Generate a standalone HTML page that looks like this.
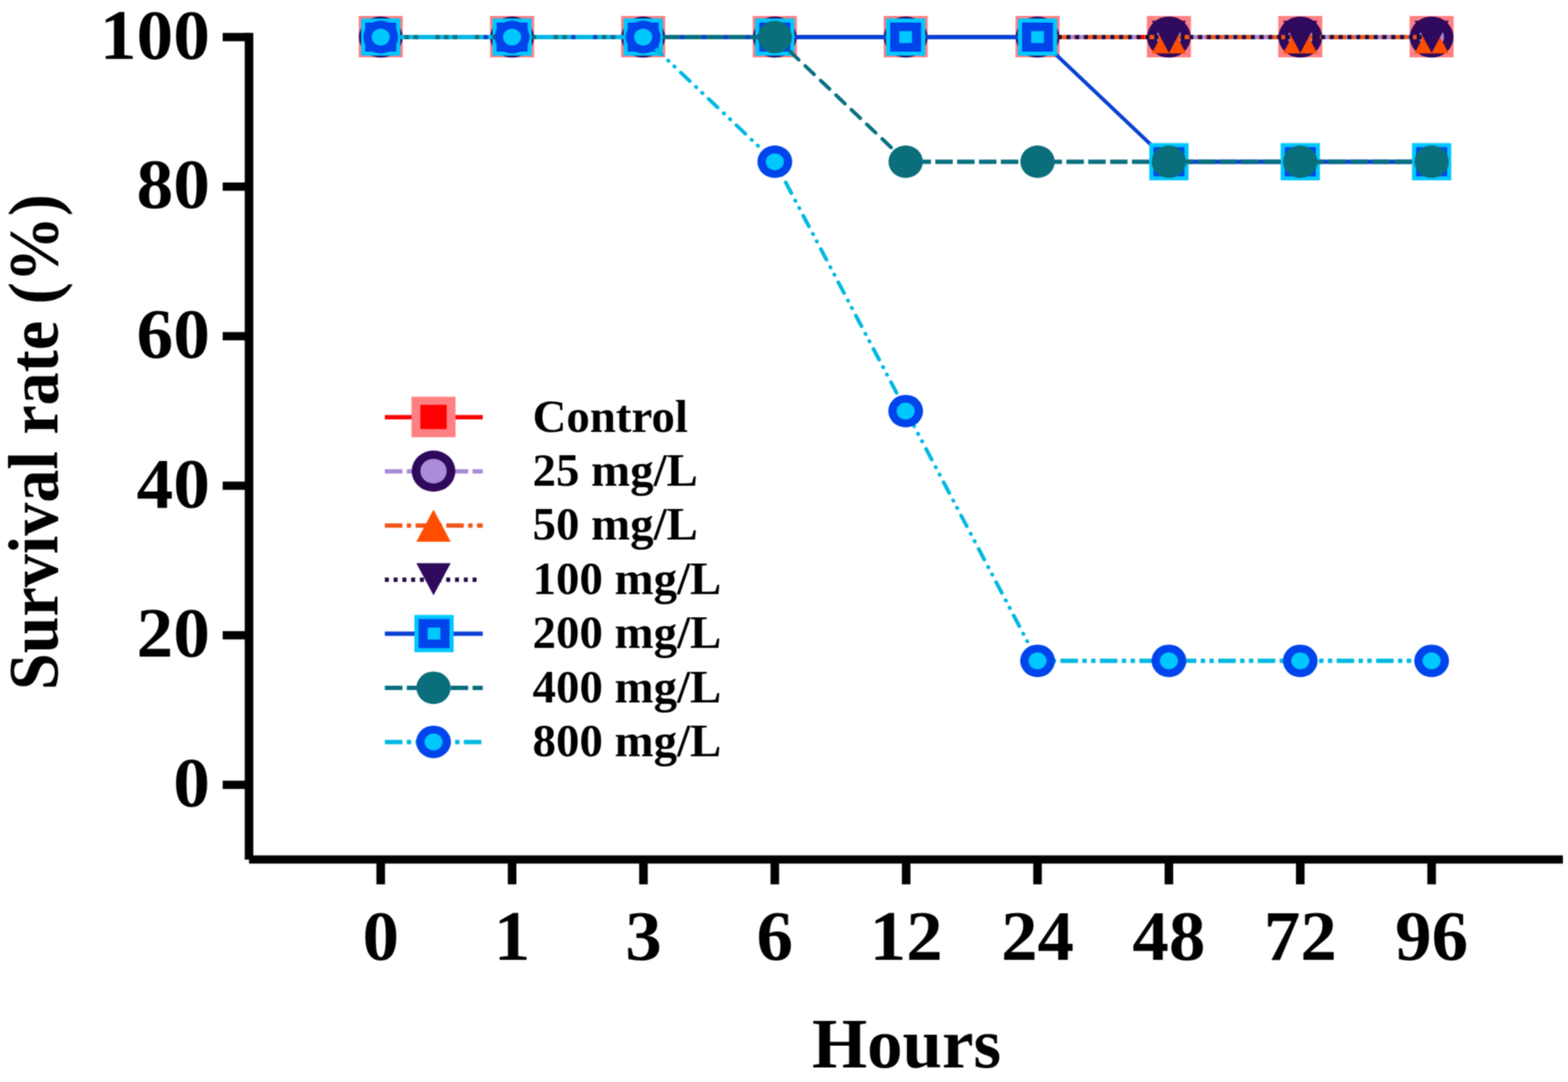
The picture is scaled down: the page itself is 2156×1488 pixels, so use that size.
<!DOCTYPE html>
<html lang="en">
<head>
<meta charset="utf-8">
<title>Survival rate (%) vs Hours</title>
<style>
html,body{margin:0;padding:0;background:#fff;}
body{width:2156px;height:1488px;overflow:hidden;position:relative;}
svg{position:absolute;left:0;top:0;display:block;}
text{font-family:"Liberation Serif",serif;font-weight:bold;fill:#000;}
.tick{font-size:96.5px;}
.leg{font-size:64px;}
</style>
</head>
<body>
<svg width="2156" height="1488" viewBox="0 0 2156 1488" role="img" aria-label="Line chart of survival rate (%) against hours for control and 25 to 800 mg/L treatments">
<defs>
<filter id="soft" x="0" y="0" width="2156" height="1488" filterUnits="userSpaceOnUse" color-interpolation-filters="sRGB">
<feConvolveMatrix order="3" kernelMatrix="1 2 1 2 4 2 1 2 1" divisor="16" edgeMode="duplicate" preserveAlpha="false"/>
</filter>
</defs>
<g id="figure" filter="url(#soft)">
<rect x="0" y="0" width="2156" height="1488" fill="#fff"/>

<g id="axes" fill="#000">
<rect x="336.5" y="45.2" width="11.8" height="1137"/>
<rect x="342.4" y="1176.4" width="1806.6" height="11.2"/>
<rect x="306.2" y="45.3" width="36.2" height="11.4"/>
<rect x="306.2" y="250.96" width="36.2" height="11.4"/>
<rect x="306.2" y="456.62" width="36.2" height="11.4"/>
<rect x="306.2" y="662.28" width="36.2" height="11.4"/>
<rect x="306.2" y="867.94" width="36.2" height="11.4"/>
<rect x="306.2" y="1073.6" width="36.2" height="11.4"/>
<rect x="517.6" y="1182" width="11.8" height="34.2"/>
<rect x="698.23" y="1182" width="11.8" height="34.2"/>
<rect x="878.85" y="1182" width="11.8" height="34.2"/>
<rect x="1059.47" y="1182" width="11.8" height="34.2"/>
<rect x="1240.1" y="1182" width="11.8" height="34.2"/>
<rect x="1420.72" y="1182" width="11.8" height="34.2"/>
<rect x="1601.35" y="1182" width="11.8" height="34.2"/>
<rect x="1781.97" y="1182" width="11.8" height="34.2"/>
<rect x="1962.6" y="1182" width="11.8" height="34.2"/>
</g>
<g id="ylabels" class="tick" text-anchor="end">
<text transform="translate(288.6 80.6) scale(1.045 1)">100</text>
<text transform="translate(288.6 286.26) scale(1.045 1)">80</text>
<text transform="translate(288.6 491.92) scale(1.045 1)">60</text>
<text transform="translate(288.6 697.58) scale(1.045 1)">40</text>
<text transform="translate(288.6 903.24) scale(1.045 1)">20</text>
<text transform="translate(288.6 1108.9) scale(1.045 1)">0</text>
</g>
<g id="xlabels" class="tick" text-anchor="middle">
<text transform="translate(523.5 1319.6) scale(1.04 1)">0</text>
<text transform="translate(704.12 1319.6) scale(1.04 1)">1</text>
<text transform="translate(884.75 1319.6) scale(1.04 1)">3</text>
<text transform="translate(1065.38 1319.6) scale(1.04 1)">6</text>
<text transform="translate(1246 1319.6) scale(1.04 1)">12</text>
<text transform="translate(1426.62 1319.6) scale(1.04 1)">24</text>
<text transform="translate(1607.25 1319.6) scale(1.04 1)">48</text>
<text transform="translate(1787.88 1319.6) scale(1.04 1)">72</text>
<text transform="translate(1968.5 1319.6) scale(1.04 1)">96</text>
</g>
<text id="xtitle" transform="translate(1246.5 1467.8) scale(1.011 1)" text-anchor="middle" font-size="96.5">Hours</text>
<text id="ytitle" transform="translate(79.2 608) rotate(-90) scale(0.938 1)" text-anchor="middle" font-size="97">Survival rate (%)</text>
<g id="series" fill="none">
<g><g transform="scale(1.061 1)">
<line x1="493.4" y1="51" x2="1855.33" y2="51" stroke="#fa0000" stroke-width="6.0"/>
</g>
<rect x="493.2" y="22" width="60.6" height="56.9" fill="#ff8083"/>
<rect x="505.4" y="34.3" width="36.2" height="33.4" fill="#ff0000"/>
<rect x="673.83" y="22" width="60.6" height="56.9" fill="#ff8083"/>
<rect x="686.02" y="34.3" width="36.2" height="33.4" fill="#ff0000"/>
<rect x="854.05" y="22" width="60.6" height="56.9" fill="#ff8083"/>
<rect x="866.25" y="34.3" width="36.2" height="33.4" fill="#ff0000"/>
<rect x="1035.08" y="22" width="60.6" height="56.9" fill="#ff8083"/>
<rect x="1047.28" y="34.3" width="36.2" height="33.4" fill="#ff0000"/>
<rect x="1215" y="22" width="60.6" height="56.9" fill="#ff8083"/>
<rect x="1227.2" y="34.3" width="36.2" height="33.4" fill="#ff0000"/>
<rect x="1396.33" y="22" width="60.6" height="56.9" fill="#ff8083"/>
<rect x="1408.53" y="34.3" width="36.2" height="33.4" fill="#ff0000"/>
<rect x="1576.95" y="22" width="60.6" height="56.9" fill="#ff8083"/>
<rect x="1589.15" y="34.3" width="36.2" height="33.4" fill="#ff0000"/>
<rect x="1757.58" y="22" width="60.6" height="56.9" fill="#ff8083"/>
<rect x="1769.78" y="34.3" width="36.2" height="33.4" fill="#ff0000"/>
<rect x="1938.2" y="22" width="60.6" height="56.9" fill="#ff8083"/>
<rect x="1950.4" y="34.3" width="36.2" height="33.4" fill="#ff0000"/>
</g>
<g><g transform="scale(1.061 1)">
<line x1="493.4" y1="51" x2="1855.33" y2="51" stroke="#a88bd6" stroke-width="6.0" stroke-dasharray="22.73 5.68" stroke-dashoffset="4.48"/>
</g>
<ellipse cx="523.5" cy="51" rx="30" ry="28.3" fill="#2f0a5c"/>
<ellipse cx="523.5" cy="51" rx="17.0" ry="16.0" fill="#aa8cd8"/>
<ellipse cx="704.12" cy="51" rx="30" ry="28.3" fill="#2f0a5c"/>
<ellipse cx="704.12" cy="51" rx="17.0" ry="16.0" fill="#aa8cd8"/>
<ellipse cx="884.35" cy="51" rx="30" ry="28.3" fill="#2f0a5c"/>
<ellipse cx="884.35" cy="51" rx="17.0" ry="16.0" fill="#aa8cd8"/>
<ellipse cx="1065.38" cy="51" rx="30" ry="28.3" fill="#2f0a5c"/>
<ellipse cx="1065.38" cy="51" rx="17.0" ry="16.0" fill="#aa8cd8"/>
<ellipse cx="1245.3" cy="51" rx="30" ry="28.3" fill="#2f0a5c"/>
<ellipse cx="1245.3" cy="51" rx="17.0" ry="16.0" fill="#aa8cd8"/>
<ellipse cx="1426.62" cy="51" rx="30" ry="28.3" fill="#2f0a5c"/>
<ellipse cx="1426.62" cy="51" rx="17.0" ry="16.0" fill="#aa8cd8"/>
<ellipse cx="1607.25" cy="51" rx="30" ry="28.3" fill="#2f0a5c"/>
<ellipse cx="1607.25" cy="51" rx="17.0" ry="16.0" fill="#aa8cd8"/>
<ellipse cx="1787.88" cy="51" rx="30" ry="28.3" fill="#2f0a5c"/>
<ellipse cx="1787.88" cy="51" rx="17.0" ry="16.0" fill="#aa8cd8"/>
<ellipse cx="1968.5" cy="51" rx="30" ry="28.3" fill="#2f0a5c"/>
<ellipse cx="1968.5" cy="51" rx="17.0" ry="16.0" fill="#aa8cd8"/>
</g>
<g><g transform="scale(1.061 1)">
<line x1="493.4" y1="51" x2="1855.33" y2="51" stroke="#f0561a" stroke-width="6.0" stroke-dasharray="22.73 5.68 5.68 5.68" stroke-dashoffset="4.08"/>
</g>
<polygon points="523.5,29.4 547.1,73.6 499.9,73.6" fill="#ff4d00"/>
<polygon points="704.12,29.4 727.73,73.6 680.52,73.6" fill="#ff4d00"/>
<polygon points="884.35,29.4 907.95,73.6 860.75,73.6" fill="#ff4d00"/>
<polygon points="1065.38,29.4 1088.97,73.6 1041.78,73.6" fill="#ff4d00"/>
<polygon points="1245.3,29.4 1268.9,73.6 1221.7,73.6" fill="#ff4d00"/>
<polygon points="1426.62,29.4 1450.22,73.6 1403.03,73.6" fill="#ff4d00"/>
<polygon points="1607.25,29.4 1630.85,73.6 1583.65,73.6" fill="#ff4d00"/>
<polygon points="1787.88,29.4 1811.47,73.6 1764.28,73.6" fill="#ff4d00"/>
<polygon points="1968.5,29.4 1992.1,73.6 1944.9,73.6" fill="#ff4d00"/>
</g>
<g><g transform="scale(1.061 1)">
<line x1="493.4" y1="51" x2="1855.33" y2="51" stroke="#1f0a44" stroke-width="6.0" stroke-dasharray="5.12 6.26" stroke-dashoffset="10.31"/>
</g>
<polygon points="523.5,72.8 547.1,28.6 499.9,28.6" fill="#2f0a5c"/>
<polygon points="704.12,72.8 727.73,28.6 680.52,28.6" fill="#2f0a5c"/>
<polygon points="884.35,72.8 907.95,28.6 860.75,28.6" fill="#2f0a5c"/>
<polygon points="1065.38,72.8 1088.97,28.6 1041.78,28.6" fill="#2f0a5c"/>
<polygon points="1245.3,72.8 1268.9,28.6 1221.7,28.6" fill="#2f0a5c"/>
<polygon points="1426.62,72.8 1450.22,28.6 1403.03,28.6" fill="#2f0a5c"/>
<polygon points="1607.25,72.8 1630.85,28.6 1583.65,28.6" fill="#2f0a5c"/>
<polygon points="1787.88,72.8 1811.47,28.6 1764.28,28.6" fill="#2f0a5c"/>
<polygon points="1968.5,72.8 1992.1,28.6 1944.9,28.6" fill="#2f0a5c"/>
</g>
<g><g transform="scale(1.061 1)">
<line x1="493.4" y1="51" x2="1344.6" y2="51" stroke="#0a40d2" stroke-width="6.0"/>
<line x1="1344.6" y1="51" x2="1514.84" y2="222.4" stroke="#0a40d2" stroke-width="4.9" stroke-linecap="round"/>
<line x1="1514.84" y1="222.4" x2="1855.33" y2="222.4" stroke="#0a40d2" stroke-width="6.0"/>
</g>
<rect x="496.5" y="25.4" width="54" height="51.2" fill="#00c8ff"/>
<rect x="502.2" y="31" width="42.6" height="40" fill="#0044ec"/>
<rect x="514.8" y="42.8" width="17.4" height="16.4" fill="#00c8ff"/>
<rect x="677.12" y="25.4" width="54" height="51.2" fill="#00c8ff"/>
<rect x="682.83" y="31" width="42.6" height="40" fill="#0044ec"/>
<rect x="695.42" y="42.8" width="17.4" height="16.4" fill="#00c8ff"/>
<rect x="857.35" y="25.4" width="54" height="51.2" fill="#00c8ff"/>
<rect x="863.05" y="31" width="42.6" height="40" fill="#0044ec"/>
<rect x="875.65" y="42.8" width="17.4" height="16.4" fill="#00c8ff"/>
<rect x="1038.38" y="25.4" width="54" height="51.2" fill="#00c8ff"/>
<rect x="1044.08" y="31" width="42.6" height="40" fill="#0044ec"/>
<rect x="1056.67" y="42.8" width="17.4" height="16.4" fill="#00c8ff"/>
<rect x="1218.3" y="25.4" width="54" height="51.2" fill="#00c8ff"/>
<rect x="1224" y="31" width="42.6" height="40" fill="#0044ec"/>
<rect x="1236.6" y="42.8" width="17.4" height="16.4" fill="#00c8ff"/>
<rect x="1399.62" y="25.4" width="54" height="51.2" fill="#00c8ff"/>
<rect x="1405.33" y="31" width="42.6" height="40" fill="#0044ec"/>
<rect x="1417.92" y="42.8" width="17.4" height="16.4" fill="#00c8ff"/>
<rect x="1580.25" y="196.8" width="54" height="51.2" fill="#00c8ff"/>
<rect x="1585.95" y="202.4" width="42.6" height="40" fill="#0044ec"/>
<rect x="1598.55" y="214.2" width="17.4" height="16.4" fill="#00c8ff"/>
<rect x="1760.88" y="196.8" width="54" height="51.2" fill="#00c8ff"/>
<rect x="1766.58" y="202.4" width="42.6" height="40" fill="#0044ec"/>
<rect x="1779.17" y="214.2" width="17.4" height="16.4" fill="#00c8ff"/>
<rect x="1941.5" y="196.8" width="54" height="51.2" fill="#00c8ff"/>
<rect x="1947.2" y="202.4" width="42.6" height="40" fill="#0044ec"/>
<rect x="1959.8" y="214.2" width="17.4" height="16.4" fill="#00c8ff"/>
</g>
<g><g transform="scale(1.061 1)">
<line x1="493.4" y1="51" x2="1004.12" y2="51" stroke="#087080" stroke-width="6.0" stroke-dasharray="22.66 5.66" stroke-dashoffset="3.02"/>
<line x1="1004.12" y1="51" x2="1174.36" y2="222.4" stroke="#087080" stroke-width="4.9" stroke-linecap="round" stroke-dasharray="16.36 11.96" stroke-dashoffset="0.78"/>
<line x1="1174.36" y1="222.4" x2="1855.33" y2="222.4" stroke="#087080" stroke-width="6.0" stroke-dasharray="22.66 5.66" stroke-dashoffset="18.93"/>
</g>
<ellipse cx="523.5" cy="51" rx="23.6" ry="22.4" fill="#0b6e7b"/>
<ellipse cx="704.12" cy="51" rx="23.6" ry="22.4" fill="#0b6e7b"/>
<ellipse cx="884.35" cy="51" rx="23.6" ry="22.4" fill="#0b6e7b"/>
<ellipse cx="1065.38" cy="51" rx="23.6" ry="22.4" fill="#0b6e7b"/>
<ellipse cx="1245.3" cy="222.4" rx="23.6" ry="22.4" fill="#0b6e7b"/>
<ellipse cx="1426.62" cy="222.4" rx="23.6" ry="22.4" fill="#0b6e7b"/>
<ellipse cx="1607.25" cy="222.4" rx="23.6" ry="22.4" fill="#0b6e7b"/>
<ellipse cx="1787.88" cy="222.4" rx="23.6" ry="22.4" fill="#0b6e7b"/>
<ellipse cx="1968.5" cy="222.4" rx="23.6" ry="22.4" fill="#0b6e7b"/>
</g>
<g><g transform="scale(1.061 1)">
<line x1="493.4" y1="51" x2="833.88" y2="51" stroke="#00b8e2" stroke-width="6.0" stroke-dasharray="22.73 5.68 5.68 5.68 5.68 5.68" stroke-dashoffset="3.08"/>
<line x1="833.88" y1="51" x2="1004.12" y2="222.4" stroke="#00b8e2" stroke-width="4.9" stroke-linecap="round" stroke-dasharray="16.43 11.28 0.78 10.58 0.78 11.28" stroke-dashoffset="33.51"/>
<line x1="1004.12" y1="222.4" x2="1174.36" y2="565.3" stroke="#00b8e2" stroke-width="4.9" stroke-linecap="round" stroke-dasharray="16.43 11.28 0.78 10.58 0.78 11.28" stroke-dashoffset="19.34"/>
<line x1="1174.36" y1="565.3" x2="1344.6" y2="908.8" stroke="#00b8e2" stroke-width="4.9" stroke-linecap="round" stroke-dasharray="16.43 11.28 0.78 10.58 0.78 11.28" stroke-dashoffset="44.13"/>
<line x1="1344.6" y1="908.8" x2="1855.33" y2="908.8" stroke="#00b8e2" stroke-width="6.0" stroke-dasharray="22.73 5.68 5.68 5.68 5.68 5.68" stroke-dashoffset="21.45"/>
</g>
<ellipse cx="523.5" cy="51" rx="23.9" ry="22.4" fill="#0044ec"/>
<ellipse cx="523.5" cy="51" rx="12.4" ry="11.5" fill="#00c8ff"/>
<ellipse cx="704.12" cy="51" rx="23.9" ry="22.4" fill="#0044ec"/>
<ellipse cx="704.12" cy="51" rx="12.4" ry="11.5" fill="#00c8ff"/>
<ellipse cx="884.35" cy="51" rx="23.9" ry="22.4" fill="#0044ec"/>
<ellipse cx="884.35" cy="51" rx="12.4" ry="11.5" fill="#00c8ff"/>
<ellipse cx="1065.38" cy="222.4" rx="23.9" ry="22.4" fill="#0044ec"/>
<ellipse cx="1065.38" cy="222.4" rx="12.4" ry="11.5" fill="#00c8ff"/>
<ellipse cx="1245.3" cy="565.3" rx="23.9" ry="22.4" fill="#0044ec"/>
<ellipse cx="1245.3" cy="565.3" rx="12.4" ry="11.5" fill="#00c8ff"/>
<ellipse cx="1426.62" cy="908.8" rx="23.9" ry="22.4" fill="#0044ec"/>
<ellipse cx="1426.62" cy="908.8" rx="12.4" ry="11.5" fill="#00c8ff"/>
<ellipse cx="1607.25" cy="908.8" rx="23.9" ry="22.4" fill="#0044ec"/>
<ellipse cx="1607.25" cy="908.8" rx="12.4" ry="11.5" fill="#00c8ff"/>
<ellipse cx="1787.88" cy="908.8" rx="23.9" ry="22.4" fill="#0044ec"/>
<ellipse cx="1787.88" cy="908.8" rx="12.4" ry="11.5" fill="#00c8ff"/>
<ellipse cx="1968.5" cy="908.8" rx="23.9" ry="22.4" fill="#0044ec"/>
<ellipse cx="1968.5" cy="908.8" rx="12.4" ry="11.5" fill="#00c8ff"/>
</g>
</g>
<g id="legend">
<line x1="529.2" y1="573.7" x2="663.8" y2="573.7" stroke="#fa0000" stroke-width="6"/>
<rect x="565.8" y="545.6" width="60.6" height="55.7" fill="#ff8083"/>
<rect x="578" y="556.7" width="36.2" height="33.4" fill="#ff0000"/>
<text class="leg" transform="translate(732.2 593.5) scale(1.007 1)">Control</text>
<line x1="529.2" y1="648.18" x2="663.8" y2="648.18" stroke="#a88bd6" stroke-width="6" stroke-dasharray="24.12 6.03"/>
<ellipse cx="596.1" cy="647.88" rx="30" ry="28.3" fill="#2f0a5c"/>
<ellipse cx="596.1" cy="647.88" rx="18.1" ry="17.0" fill="#aa8cd8"/>
<text class="leg" transform="translate(732.2 667.98) scale(1.007 1)">25 mg/L</text>
<line x1="529.2" y1="722.66" x2="663.8" y2="722.66" stroke="#f0561a" stroke-width="6" stroke-dasharray="24.12 6.03 6.03 6.03"/>
<polygon points="596.1,700.76 619.7,744.96 572.5,744.96" fill="#ff4d00"/>
<text class="leg" transform="translate(732.2 742.46) scale(1.007 1)">50 mg/L</text>
<line x1="529.2" y1="797.14" x2="661.5" y2="797.14" stroke="#1f0a44" stroke-width="6" stroke-dasharray="5.43 6.63"/>
<polygon points="596.1,818.64 619.7,774.44 572.5,774.44" fill="#2f0a5c"/>
<text class="leg" transform="translate(732.2 816.94) scale(1.007 1)">100 mg/L</text>
<line x1="529.2" y1="871.62" x2="663.8" y2="871.62" stroke="#0a40d2" stroke-width="6"/>
<rect x="569.8" y="845.72" width="54" height="51.2" fill="#00c8ff"/>
<rect x="575.5" y="851.32" width="42.6" height="40" fill="#0044ec"/>
<rect x="588.1" y="863.12" width="17.4" height="16.4" fill="#00c8ff"/>
<text class="leg" transform="translate(732.2 891.42) scale(1.007 1)">200 mg/L</text>
<line x1="529.2" y1="946.1" x2="663.8" y2="946.1" stroke="#087080" stroke-width="6" stroke-dasharray="24.12 6.03"/>
<ellipse cx="596.1" cy="945.8" rx="23.6" ry="22.4" fill="#0b6e7b"/>
<text class="leg" transform="translate(732.2 965.9) scale(1.007 1)">400 mg/L</text>
<line x1="529.2" y1="1020.58" x2="663.8" y2="1020.58" stroke="#00b8e2" stroke-width="6" stroke-dasharray="24.12 6.03 6.03 6.03 6.03 6.03"/>
<ellipse cx="596.1" cy="1020.28" rx="23.9" ry="22.4" fill="#0044ec"/>
<ellipse cx="596.1" cy="1020.28" rx="12.4" ry="11.5" fill="#00c8ff"/>
<text class="leg" transform="translate(732.2 1040.38) scale(1.007 1)">800 mg/L</text>
</g>
</g>
</svg>
</body>
</html>
